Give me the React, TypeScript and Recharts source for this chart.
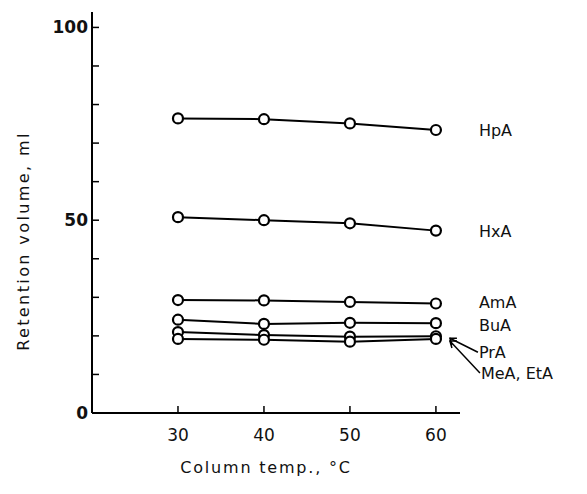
import React from "react";
import { Label, Line, LineChart, XAxis, YAxis } from "recharts";

// column temperatures, °C
const temps = [30, 40, 50, 60];

// retention volumes, ml
const hpa = [76.4, 76.2, 75.1, 73.4];
const hxa = [50.8, 50.0, 49.2, 47.3];
const ama = [29.3, 29.2, 28.8, 28.4];
const bua = [24.2, 23.1, 23.4, 23.3];
const pra = [21.0, 20.2, 19.8, 19.9];
const meaEta = [19.2, 19.0, 18.5, 19.2];

const seriesNames = ["HpA", "HxA", "AmA", "BuA", "PrA", "MeA, EtA"];
const seriesValues = [hpa, hxa, ama, bua, pra, meaEta];

const yTicks = [0, 10, 20, 30, 40, 50, 60, 70, 80, 90, 100];
const yLabelled = [0, 50, 100];
const xTicks = [30, 40, 50, 60];

const data = temps.map((t, i) => {
  const row: Record<string, number> = { t };
  seriesNames.forEach((n, s) => {
    row[n] = seriesValues[s][i];
  });
  return row;
});

const FONT = "'DejaVu Sans', Verdana, sans-serif";

// where the end label sits, relative to the last point
const labelPos: Record<string, { dx: number; dy: number; arrow?: boolean }> = {
  HpA: { dx: 43, dy: 0 },
  HxA: { dx: 43, dy: 0 },
  AmA: { dx: 43, dy: -1 },
  BuA: { dx: 43, dy: 2 },
  PrA: { dx: 43, dy: 16, arrow: true },
  "MeA, EtA": { dx: 45, dy: 34, arrow: true },
};

function YTick(props: any) {
  const { x, y, payload } = props;
  const show = yLabelled.includes(payload.value);
  return (
    <g>
      <line x1={x} y1={y} x2={x + 7} y2={y} stroke="#000" strokeWidth={1.5} />
      {show && (
        <text
          x={x - 4}
          y={y + 6}
          textAnchor="end"
          fontFamily={FONT}
          fontSize={17}
          fontWeight="bold"
          fill="#111"
        >
          {payload.value}
        </text>
      )}
    </g>
  );
}

function XTick(props: any) {
  const { x, y, payload } = props;
  return (
    <g>
      <line x1={x} y1={y} x2={x} y2={y - 7} stroke="#000" strokeWidth={1.5} />
      <text
        x={x}
        y={y + 28}
        textAnchor="middle"
        fontFamily={FONT}
        fontSize={17}
        fill="#111"
      >
        {payload.value}
      </text>
    </g>
  );
}

function endLabel(name: string) {
  return (p: any) => {
    if (p.index !== temps.length - 1) return null;
    const pos = labelPos[name];
    const tx = p.x + pos.dx;
    const ty = p.y + pos.dy;
    return (
      <g key={name}>
        {pos.arrow && (
          <g stroke="#000" strokeWidth={1.5} fill="none">
            <line x1={tx - 1} y1={ty} x2={p.x + 14} y2={p.y + 2} />
            <polyline
              points={`${p.x + 16},${p.y + 9} ${p.x + 14},${p.y + 2} ${p.x + 21},${p.y + 2}`}
            />
          </g>
        )}
        <text
          x={tx}
          y={ty + 6}
          fontFamily={FONT}
          fontSize={16}
          fill="#111"
        >
          {name}
        </text>
      </g>
    );
  };
}

export default function App() {
  return (
    <LineChart
      width={571}
      height={478}
      data={data}
      margin={{ top: 4, right: 119, bottom: 43, left: 24 }}
    >
      <XAxis
        dataKey="t"
        type="number"
        domain={[20, 62.8]}
        ticks={xTicks}
        tickLine={false}
        tickSize={0}
        tickMargin={0}
        tick={<XTick />}
        height={30}
        stroke="#000"
        strokeWidth={2}
      >
        <Label
          content={(p: any) => (
            <text
              x={p.viewBox.x + p.viewBox.width / 2 - 10}
              y={p.viewBox.y + 60}
              textAnchor="middle"
              fontFamily={FONT}
              fontSize={16}
              letterSpacing={1.8}
              fill="#111"
            >
              Column temp.,  °C
            </text>
          )}
        />
      </XAxis>
      <YAxis
        type="number"
        domain={[0, 104]}
        ticks={yTicks}
        tickLine={false}
        tickSize={0}
        tickMargin={0}
        tick={<YTick />}
        width={60}
        stroke="#000"
        strokeWidth={2}
      >
        <Label
          content={(p: any) => {
            const cx = p.viewBox.x - 3;
            const cy = p.viewBox.y + 229;
            return (
              <text
                x={cx}
                y={cy}
                textAnchor="middle"
                transform={`rotate(-90 ${cx} ${cy})`}
                fontFamily={FONT}
                fontSize={16}
                letterSpacing={2.4}
                fill="#111"
              >
                Retention volume,  ml
              </text>
            );
          }}
        />
      </YAxis>
      {seriesNames.map((n) => (
        <Line
          key={n}
          dataKey={n}
          type="linear"
          stroke="#000"
          strokeWidth={2}
          dot={{ r: 5, fill: "#fff", stroke: "#000", strokeWidth: 2.2 }}
          activeDot={false}
          isAnimationActive={false}
          label={endLabel(n)}
        />
      ))}
    </LineChart>
  );
}
